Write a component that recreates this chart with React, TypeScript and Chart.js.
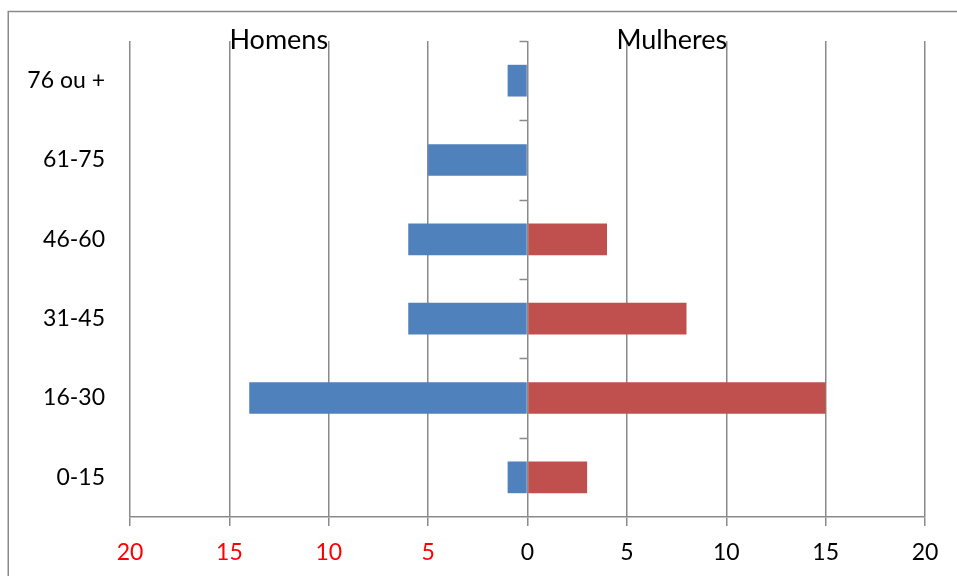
import React, { useEffect, useRef } from "react";
import { Chart, registerables } from "chart.js";

Chart.register(...registerables);

const categories = ["76 ou +", "61-75", "46-60", "31-45", "16-30", "0-15"];
const homens = [-1, -5, -6, -6, -14, -1];
const mulheres = [0, 0, 4, 8, 15, 3];
const xTicks = [-20, -15, -10, -5, 0, 5, 10, 15, 20];
const sideLabels = { left: "Homens", right: "Mulheres" };

const FONT = "Lato, 'Liberation Sans', sans-serif";
const GRID = "#8a8a8a";

const decorPlugin = {
  id: "decor",
  afterDraw(chart: any) {
    const { ctx, chartArea, scales } = chart;
    const x = scales.x;
    ctx.save();
    // outer frame (left and top only; right/bottom are outside the picture)
    ctx.strokeStyle = GRID;
    ctx.lineWidth = 1.5;
    ctx.beginPath();
    ctx.moveTo(8.25, chart.height + 5);
    ctx.lineTo(8.25, 11.5);
    ctx.lineTo(chart.width + 5, 11.5);
    ctx.stroke();
    // category ticks on zero axis
    const x0 = x.getPixelForValue(0);
    const n = categories.length;
    const h = (chartArea.bottom - chartArea.top) / n;
    for (let i = 0; i < n; i++) {
      const y = Math.round(chartArea.top + i * h) + 0.5;
      ctx.beginPath();
      ctx.moveTo(x0 - 8, y);
      ctx.lineTo(x0, y);
      ctx.stroke();
    }
    // side labels
    ctx.fillStyle = "#000";
    ctx.font = `27px ${FONT}`;
    ctx.textBaseline = "middle";
    ctx.textAlign = "left";
    ctx.fillText(sideLabels.left, x.getPixelForValue(-15), chartArea.top - 1);
    ctx.textAlign = "right";
    ctx.fillText(sideLabels.right, x.getPixelForValue(10) + 1, chartArea.top - 1);
    ctx.restore();
  },
};

export default function App() {
  const ref = useRef<HTMLCanvasElement>(null);
  useEffect(() => {
    if (!ref.current) return;
    const chart = new Chart(ref.current, {
      type: "bar",
      data: {
        labels: categories,
        datasets: [
          {
            label: "Homens",
            data: homens,
            backgroundColor: "#4F81BD",
            barPercentage: 0.4,
            categoryPercentage: 1,
          },
          {
            label: "Mulheres",
            data: mulheres,
            backgroundColor: "#C0504D",
            barPercentage: 0.4,
            categoryPercentage: 1,
          },
        ],
      },
      options: {
        indexAxis: "y",
        animation: false,
        responsive: false,
        maintainAspectRatio: false,
        layout: { padding: { left: 8, right: 32, top: 41, bottom: 0 } },
        plugins: {
          legend: { display: false },
          tooltip: { enabled: false },
        },
        scales: {
          x: {
            type: "linear",
            min: -20,
            max: 20,
            stacked: true,
            afterFit: (s: any) => {
              s.height = 59;
            },
            afterBuildTicks: (s: any) => {
              s.ticks = xTicks.map((v) => ({ value: v }));
            },
            grid: {
              color: GRID,
              lineWidth: 1.5,
              tickLength: 9,
              drawTicks: true,
            },
            border: { display: true, color: GRID, width: 1.5 },
            ticks: {
              padding: 13,
              font: { family: FONT, size: 23 },
              color: (c: any) => (c.tick && c.tick.value < 0 ? "#ff0000" : "#000000"),
              callback: (v: any) => String(Math.abs(Number(v))),
            },
          },
          y: {
            stacked: true,
            afterFit: (s: any) => {
              s.width = 122;
            },
            grid: { display: false, drawTicks: false },
            border: { display: false },
            ticks: {
              padding: 25,
              font: { family: FONT, size: 23 },
              color: "#000",
            },
          },
        },
      },
      plugins: [decorPlugin],
    });
    return () => chart.destroy();
  }, []);
  return (
    <div style={{ position: "fixed", left: 0, top: 0, width: 957, height: 576, overflow: "hidden", background: "#fff" }}>
      <canvas ref={ref} width={957} height={576} style={{ display: "block" }} />
    </div>
  );
}
